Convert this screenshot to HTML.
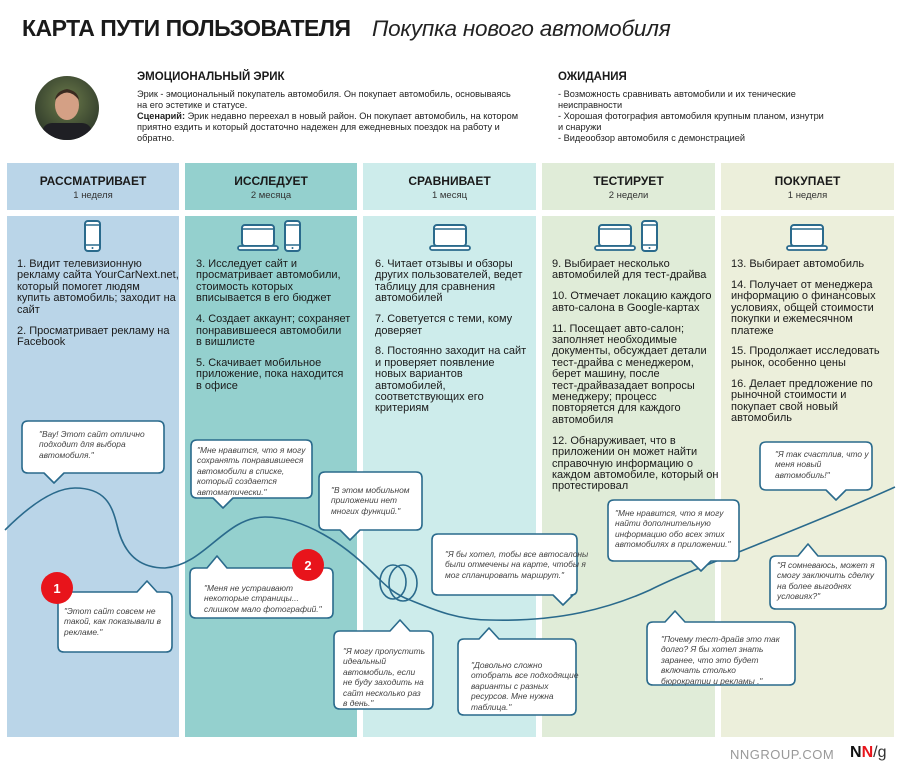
<!DOCTYPE html>
<html><head><meta charset="utf-8"><style>
*{margin:0;padding:0;box-sizing:border-box}
body{width:900px;height:773px;background:#fff;position:relative;overflow:hidden;font-family:"Liberation Sans","DejaVu Sans",sans-serif;color:#1a1a1a}
.a{position:absolute}
.col{position:absolute}
.h{font-weight:bold;font-size:12px;text-align:center;top:174px}
.sub{font-size:9.5px;text-align:center;top:190px;color:#333}
.t{position:absolute;font-size:11px;line-height:11.4px;color:#1a1a1a;white-space:nowrap}
.t p{margin-bottom:9.5px}
.q{position:absolute;font-size:8.4px;line-height:10.4px;font-style:italic;color:#444;white-space:nowrap}
.s{font-size:9.2px;line-height:11px;color:#222;white-space:nowrap}
</style></head><body>
<div class="a" style="left:22px;top:15px;font-size:23px;font-weight:bold;letter-spacing:-0.5px">КАРТА ПУТИ ПОЛЬЗОВАТЕЛЯ</div>
<div class="a" style="left:372px;top:16px;font-size:22.5px;font-style:italic;color:#222;letter-spacing:-0.2px">Покупка нового автомобиля</div>

<svg class="a" style="left:34px;top:75px" width="66" height="66"><defs><clipPath id="c"><circle cx="33" cy="33" r="32"/></clipPath><radialGradient id="g" cx="0.5" cy="0.4" r="0.6"><stop offset="0" stop-color="#6b7a4a"/><stop offset="1" stop-color="#2f3a2a"/></radialGradient></defs><g clip-path="url(#c)"><rect width="66" height="66" fill="url(#g)"/><ellipse cx="33" cy="30" rx="12" ry="15" fill="#d4a085"/><path d="M21 25 Q33 10 45 25 Q44 16 33 14 Q22 16 21 25Z" fill="#3a2a20"/><rect x="8" y="48" width="50" height="20" rx="10" fill="#1f1f24"/></g></svg>

<div class="a" style="left:137px;top:71px;font-size:11.5px;font-weight:bold">ЭМОЦИОНАЛЬНЫЙ ЭРИК</div>
<div class="a s" style="left:137px;top:89px">Эрик - эмоциональный покупатель автомобиля. Он покупает автомобиль, основываясь<br>на его эстетике и статусе.<br><b>Сценарий:</b> Эрик недавно переехал в новый район. Он покупает автомобиль, на котором<br>приятно ездить и который достаточно надежен для ежедневных поездок на работу и<br>обратно.</div>
<div class="a" style="left:558px;top:71px;font-size:11.5px;font-weight:bold">ОЖИДАНИЯ</div>
<div class="a s" style="left:558px;top:89px">- Возможность сравнивать автомобили и их тенические<br>неисправности<br>- Хорошая фотография автомобиля крупным планом, изнутри<br>и снаружи<br>- Видеообзор автомобиля с демонстрацией</div>

<div class="col" style="left:7px;top:163px;width:172px;height:47px;background:#bad5e8"></div>
<div class="col" style="left:7px;top:216px;width:172px;height:521px;background:#bad5e8"></div>
<div class="col" style="left:185px;top:163px;width:172px;height:47px;background:#94d0ce"></div>
<div class="col" style="left:185px;top:216px;width:172px;height:521px;background:#94d0ce"></div>
<div class="col" style="left:363px;top:163px;width:173px;height:47px;background:#cdeceb"></div>
<div class="col" style="left:363px;top:216px;width:173px;height:521px;background:#cdeceb"></div>
<div class="col" style="left:542px;top:163px;width:173px;height:47px;background:#e0ecd8"></div>
<div class="col" style="left:542px;top:216px;width:173px;height:521px;background:#e0ecd8"></div>
<div class="col" style="left:721px;top:163px;width:173px;height:47px;background:#ecefdb"></div>
<div class="col" style="left:721px;top:216px;width:173px;height:521px;background:#ecefdb"></div>

<div class="a h" style="left:7px;width:172px">РАССМАТРИВАЕТ</div><div class="a sub" style="left:7px;width:172px">1 неделя</div>
<div class="a h" style="left:185px;width:172px">ИССЛЕДУЕТ</div><div class="a sub" style="left:185px;width:172px">2 месяца</div>
<div class="a h" style="left:363px;width:173px">СРАВНИВАЕТ</div><div class="a sub" style="left:363px;width:173px">1 месяц</div>
<div class="a h" style="left:542px;width:173px">ТЕСТИРУЕТ</div><div class="a sub" style="left:542px;width:173px">2 недели</div>
<div class="a h" style="left:721px;width:173px">ПОКУПАЕТ</div><div class="a sub" style="left:721px;width:173px">1 неделя</div>

<div class="t" style="left:17px;top:259px"><p>1. Видит телевизионную<br>рекламу сайта YourCarNext.net,<br>который помогет людям<br>купить автомобиль; заходит на<br>сайт</p><p>2. Просматривает рекламу на<br>Facebook</p></div>
<div class="t" style="left:196px;top:259px"><p>3. Исследует сайт и<br>просматривает автомобили,<br>стоимость которых<br>вписывается в его бюджет</p><p>4. Создает аккаунт; сохраняет<br>понравившееся автомобили<br>в вишлисте</p><p>5. Скачивает мобильное<br>приложение, пока находится<br>в офисе</p></div>
<div class="t" style="left:375px;top:259px"><p>6. Читает отзывы и обзоры<br>других пользователей, ведет<br>таблицу для сравнения<br>автомобилей</p><p>7. Советуется с теми, кому<br>доверяет</p><p>8. Постоянно заходит на сайт<br>и проверяет появление<br>новых вариантов<br>автомобилей,<br>соответствующих его<br>критериям</p></div>
<div class="t" style="left:552px;top:259px"><p>9. Выбирает несколько<br>автомобилей для тест-драйва</p><p>10. Отмечает локацию каждого<br>авто-салона в Google-картах</p><p>11. Посещает авто-салон;<br>заполняет необходимые<br>документы, обсуждает детали<br>тест-драйва с менеджером,<br>берет машину, после<br>тест-драйвазадает вопросы<br>менеджеру; процесс<br>повторяется для каждого<br>автомобиля</p><p>12. Обнаруживает, что в<br>приложении он может найти<br>справочную информацию о<br>каждом автомобиле, который он<br>протестировал</p></div>
<div class="t" style="left:731px;top:259px"><p>13. Выбирает автомобиль</p><p>14. Получает от менеджера<br>информацию о финансовых<br>условиях, общей стоимости<br>покупки и ежемесячном<br>платеже</p><p>15. Продолжает исследовать<br>рынок, особенно цены</p><p>16. Делает предложение по<br>рыночной стоимости и<br>покупает свой новый<br>автомобиль</p></div>

<svg class="a" style="left:0;top:0" width="900" height="773">
<defs>
<g id="ph"><rect x="0" y="0" width="15" height="30" rx="3" fill="#fff" stroke="#2a6a8c" stroke-width="2"/><line x1="0" y1="4" x2="15" y2="4" stroke="#2a6a8c" stroke-width="1.5"/><line x1="0" y1="24" x2="15" y2="24" stroke="#2a6a8c" stroke-width="1.5"/><circle cx="7.5" cy="27" r="1" fill="#2a6a8c"/></g>
<g id="lp"><rect x="4" y="2" width="32" height="21" rx="3" fill="#fff" stroke="#2a6a8c" stroke-width="2"/><line x1="4" y1="6" x2="36" y2="6" stroke="#2a6a8c" stroke-width="1.5"/><rect x="0" y="23" width="40" height="4" rx="2" fill="#fff" stroke="#2a6a8c" stroke-width="1.8"/></g>
</defs>
<use href="#ph" x="85" y="221"/>
<use href="#lp" x="238" y="223"/><use href="#ph" x="285" y="221"/>
<use href="#lp" x="430" y="223"/>
<use href="#lp" x="595" y="223"/><use href="#ph" x="642" y="221"/>
<use href="#lp" x="787" y="223"/>

<g fill="none" stroke="#2a6a8c" stroke-width="1.6">
<path d="M5,530 C30,505 55,488 75,488 C105,488 112,505 117,525 C125,560 145,568 165,568 C205,565 225,517 265,517 C305,517 345,545 372,572 C385,585 392,592 405,598 C430,608 455,620 490,620 C560,622 610,608 650,590 C700,565 800,530 895,487"/>
<ellipse cx="393" cy="582" rx="13" ry="17"/>
<ellipse cx="403" cy="583" rx="14" ry="18"/>
</g>

<g fill="#fff" stroke="#2a6a8c" stroke-width="1.6" stroke-linejoin="round">
<path d="M28,421 H158 Q164,421 164,427 V467 Q164,473 158,473 H64 L54,483 L44,473 H28 Q22,473 22,467 V427 Q22,421 28,421Z"/>
<path d="M64,592 H137 L147,581 L157,592 H166 Q172,592 172,598 V646 Q172,652 166,652 H64 Q58,652 58,646 V598 Q58,592 64,592Z"/>
<path d="M197,440 H306 Q312,440 312,446 V492 Q312,498 306,498 H233 L223,508 L213,498 H197 Q191,498 191,492 V446 Q191,440 197,440Z"/>
<path d="M196,568 H207 L217,556 L227,568 H327 Q333,568 333,574 V612 Q333,618 327,618 H196 Q190,618 190,612 V574 Q190,568 196,568Z"/>
<path d="M325,472 H416 Q422,472 422,478 V524 Q422,530 416,530 H360 L350,540 L340,530 H325 Q319,530 319,524 V478 Q319,472 325,472Z"/>
<path d="M340,631 H390 L400,620 L410,631 H427 Q433,631 433,637 V703 Q433,709 427,709 H340 Q334,709 334,703 V637 Q334,631 340,631Z"/>
<path d="M438,534 H571 Q577,534 577,540 V589 Q577,595 571,595 H573 L563,605 L553,595 H438 Q432,595 432,589 V540 Q432,534 438,534Z"/>
<path d="M464,639 H479 L489,628 L499,639 H570 Q576,639 576,645 V709 Q576,715 570,715 H464 Q458,715 458,709 V645 Q458,639 464,639Z"/>
<path d="M614,500 H733 Q739,500 739,506 V555 Q739,561 733,561 H711 L701,571 L691,561 H614 Q608,561 608,555 V506 Q608,500 614,500Z"/>
<path d="M653,622 H665 L675,611 L685,622 H789 Q795,622 795,628 V679 Q795,685 789,685 H653 Q647,685 647,679 V628 Q647,622 653,622Z"/>
<path d="M766,442 H866 Q872,442 872,448 V484 Q872,490 866,490 H846 L836,500 L826,490 H766 Q760,490 760,484 V448 Q760,442 766,442Z"/>
<path d="M776,556 H798 L808,544 L818,556 H880 Q886,556 886,562 V603 Q886,609 880,609 H776 Q770,609 770,603 V562 Q770,556 776,556Z"/>
</g>
<circle cx="57" cy="588" r="16" fill="#e8141b"/>
<text x="57" y="593" font-size="13" font-weight="bold" fill="#fff" text-anchor="middle" font-family="Liberation Sans">1</text>
<circle cx="308" cy="565" r="16" fill="#e8141b"/>
<text x="308" y="570" font-size="13" font-weight="bold" fill="#fff" text-anchor="middle" font-family="Liberation Sans">2</text>
</svg>

<div class="q" style="left:39px;top:429px">"Вау! Этот сайт отлично<br>подходит для выбора<br>автомобиля."</div>
<div class="q" style="left:64px;top:606px">"Этот сайт совсем не<br>такой, как показывали в<br>рекламе."</div>
<div class="q" style="left:197px;top:445px">"Мне нравится, что я могу<br>сохранять понравившееся<br>автомобили в списке,<br>который создается<br>автоматически."</div>
<div class="q" style="left:204px;top:583px">"Меня не устраивают<br>некоторые страницы...<br>слишком мало фотографий."</div>
<div class="q" style="left:331px;top:485px">"В этом мобильном<br>приложении нет<br>многих функций."</div>
<div class="q" style="left:343px;top:646px">"Я могу пропустить<br>идеальный<br>автомобиль, если<br>не буду заходить на<br>сайт несколько раз<br>в день."</div>
<div class="q" style="left:445px;top:549px">"Я бы хотел, тобы все автосалоны<br>были отмечены на карте, чтобы я<br>мог спланировать маршрут."</div>
<div class="q" style="left:471px;top:660px">"Довольно сложно<br>отобрать все подходящие<br>варианты с разных<br>ресурсов. Мне нужна<br>таблица."</div>
<div class="q" style="left:615px;top:508px">"Мне нравится, что я могу<br>найти дополнительную<br>информацию обо всех этих<br>автомобилях в приложении."</div>
<div class="q" style="left:661px;top:634px">"Почему тест-драйв это так<br>долго? Я бы хотел знать<br>заранее, что это будет<br>включать столько<br>бюрократии и рекламы ."</div>
<div class="q" style="left:775px;top:449px">"Я так счастлив, что у<br>меня новый<br>автомобиль!"</div>
<div class="q" style="left:777px;top:560px">"Я сомневаюсь, может я<br>смогу заключить сделку<br>на более выгоднях<br>условиях?"</div>

<div class="a" style="left:730px;top:747px;font-size:13px;color:#999;letter-spacing:0.5px">NNGROUP.COM</div>
<div class="a" style="left:850px;top:744px;font-size:16px;font-weight:bold;color:#111">N<span style="color:#e8141b">N</span><span style="font-weight:normal;color:#333">/g</span></div>
</body></html>
